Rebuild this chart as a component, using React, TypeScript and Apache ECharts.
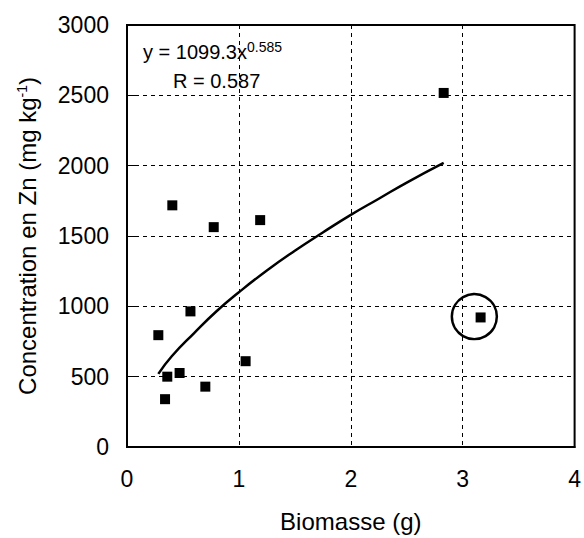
import React, { useEffect, useRef } from "react";
import * as echarts from "echarts";

const pointsX = [0.28, 0.34, 0.36, 0.405, 0.47, 0.567, 0.70, 0.775, 1.06, 1.19, 2.83, 3.16];
const pointsY = [795, 340, 500, 1718, 526, 964, 429, 1563, 610, 1613, 2517, 921];
const curveX = [0.28, 0.4, 0.6, 0.8, 1.0, 1.25, 1.5, 1.75, 2.0, 2.25, 2.5, 2.83];
const curveY = [520, 645, 810, 965, 1100, 1255, 1395, 1525, 1650, 1765, 1880, 2020];
const outlier = [3.104, 927];
const xTicks = [0, 1, 2, 3, 4];
const yTicks = [0, 500, 1000, 1500, 2000, 2500, 3000];

const FONT = "'Liberation Sans', Arial, sans-serif";

export default function App() {
  const ref = useRef<HTMLDivElement>(null);
  useEffect(() => {
    if (!ref.current) return;
    const chart = echarts.init(ref.current, null, { renderer: "svg" });
    const grid = { left: 127, right: 3, top: 25, bottom: 87 };
    chart.setOption({
      animation: false,
      grid: { ...grid, show: true, borderColor: "#000", borderWidth: 2, backgroundColor: "transparent" },
      xAxis: {
        type: "value",
        min: xTicks[0],
        max: xTicks[xTicks.length - 1],
        interval: 1,
        name: "Biomasse (g)",
        nameLocation: "middle",
        nameGap: 62,
        nameTextStyle: { fontFamily: FONT, fontSize: 24, color: "#000" },
        axisLine: { show: true, onZero: false, lineStyle: { color: "#000", width: 2 } },
        axisTick: { show: false },
        axisLabel: { fontFamily: FONT, fontSize: 23, color: "#000", margin: 20, formatter: (v: number) => String(v) },
        splitLine: { show: true, lineStyle: { color: "#000", width: 1, type: [4, 4] } },
      },
      yAxis: {
        type: "value",
        min: yTicks[0],
        max: yTicks[yTicks.length - 1],
        interval: 500,
        name: "Concentration en Zn (mg kg{sup|-1})",
        nameLocation: "middle",
        nameGap: 88,
        nameTextStyle: {
          fontFamily: FONT,
          fontSize: 24,
          color: "#000",
          rich: {
            sup: { fontFamily: FONT, fontSize: 14, color: "#000", verticalAlign: "top", padding: [0, 0, 10, 0] },
          },
        },
        axisLine: { show: true, onZero: false, lineStyle: { color: "#000", width: 2 } },
        axisTick: { show: true, inside: true, length: 8, lineStyle: { color: "#000", width: 1 } },
        axisLabel: { fontFamily: FONT, fontSize: 23, color: "#000", margin: 18, formatter: (v: number) => String(v) },
        splitLine: { show: true, lineStyle: { color: "#000", width: 1, type: [4, 4] } },
      },
      graphic: [
        {
          type: "text",
          left: 143,
          top: 40,
          style: {
            text: "y = 1099.3x{sup|0.585}",
            fontFamily: FONT,
            fontSize: 20,
            fill: "#000",
            rich: {
              sup: { fontFamily: FONT, fontSize: 14, fill: "#000", verticalAlign: "top", padding: [0, 0, 10, 0] },
            },
          },
        },
        {
          type: "text",
          left: 173,
          top: 71,
          style: { text: "R = 0.587", fontFamily: FONT, fontSize: 20, fill: "#000" },
        },
      ],
      series: [
        {
          type: "line",
          data: curveX.map((x, i) => [x, curveY[i]]),
          smooth: true,
          showSymbol: false,
          symbol: "none",
          lineStyle: { color: "#000", width: 2.5 },
          z: 3,
        },
        {
          type: "scatter",
          data: pointsX.map((x, i) => [x, pointsY[i]]),
          symbol: "rect",
          symbolSize: 10,
          itemStyle: { color: "#000", opacity: 1 },
          z: 4,
        },
        {
          type: "scatter",
          data: [outlier],
          symbol: "circle",
          symbolSize: 45,
          itemStyle: { color: "rgba(0,0,0,0)", borderColor: "#000", borderWidth: 2.5, opacity: 1 },
          z: 5,
        },
      ],
    });
    return () => chart.dispose();
  }, []);
  return <div ref={ref} style={{ width: 584, height: 538, position: "absolute", left: 0, top: 0, background: "#fff" }} />;
}
